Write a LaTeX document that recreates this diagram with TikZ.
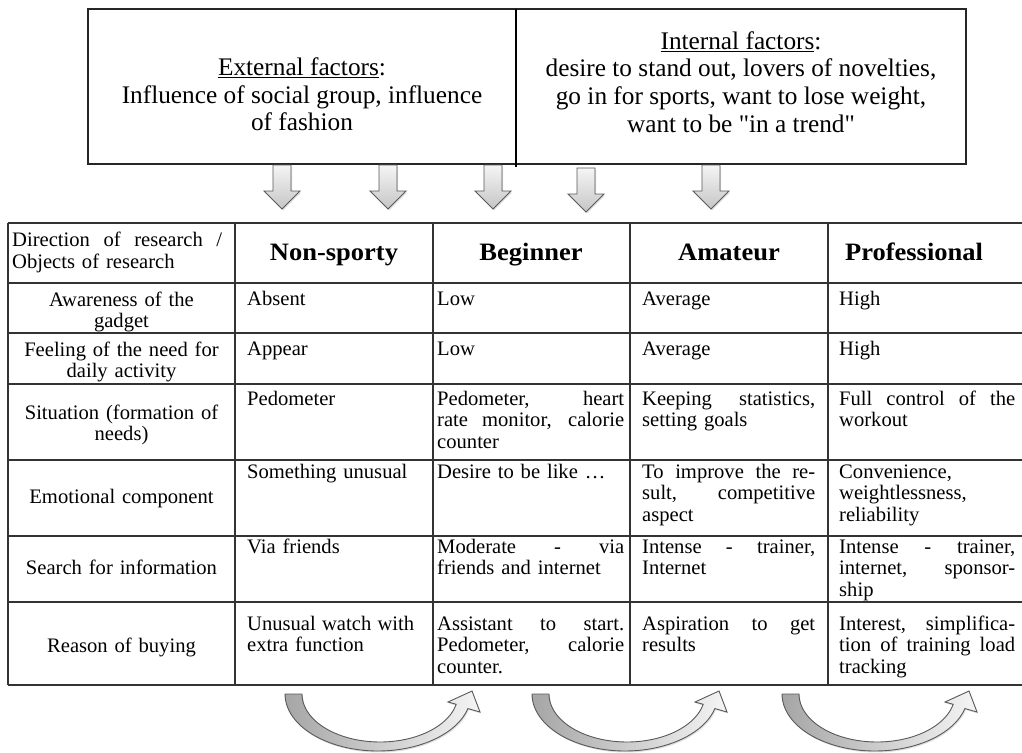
\documentclass[tikz,border=0pt]{standalone}
\usepackage{fontspec}
\setmainfont{Liberation Serif}
\newfontfamily\hdfont[FakeStretch=1.06]{Liberation Serif}
\usetikzlibrary{shadows}
\newcommand\J[1]{\leavevmode\hbox to \hsize{\spaceskip=.22em plus 1fil\relax #1}}
\newcommand\mycurvarrow[1]{%
  \begin{scope}[shift={(#1,0)}]
    \path[curvstyle] (285,694)
      -- plot[domain=180:345.2,samples=50] ({378+93*cos(\x)},{694-57*sin(\x)})
      -- (480,712) -- (472,691) -- (448,702)
      -- plot[domain=347.6:180,samples=50] ({380+78*cos(\x)},{694-48*sin(\x)})
      -- cycle;
  \end{scope}}
\begin{document}
\begin{tikzpicture}[x=1pt,y=-1pt,
  gridline/.style={line width=1.2pt, draw=black!80},
  boxline/.style={line width=1.3pt, draw=black!85},
  toptext/.style={align=center, inner sep=0, font=\fontsize{25.3}{27.7}\selectfont},
  hd/.style={anchor=base, inner sep=0, font=\hdfont\fontsize{25}{26}\selectfont\bfseries},
  lcell/.style={anchor=base, text width=222pt, align=center, inner sep=0, font=\fontsize{20.6}{21.7}\selectfont},
  cell/.style={anchor=base west, inner sep=0, align=left, font=\fontsize{20.6}{21.7}\selectfont},
  ctwo/.style={cell, text width=167pt},
  cthree/.style={cell, text width=187pt},
  cfour/.style={cell, text width=173pt},
  cfive/.style={cell, text width=176pt},
  downstyle/.style={top color=gray!8, bottom color=gray!45, draw=black!65, line width=0.9pt,
    drop shadow={opacity=0.25, shadow xshift=1pt, shadow yshift=-1.5pt}},
  curvstyle/.style={left color=gray!70, right color=gray!8, draw=black!65, line width=0.9pt,
    drop shadow={opacity=0.25, shadow xshift=1pt, shadow yshift=-1.5pt}},
  downarr/.pic={\path[downstyle] (-9,0) -- (9,0) -- (9,26) -- (18,26) -- (0,44) -- (-18,26) -- (-9,26) -- cycle;}
]
\useasboundingbox (0,0) rectangle (1022,752);

% top boxes
\draw[boxline] (88,9) rectangle (966,164);
\draw[line width=2.6pt, draw=black] (516,9) -- (516,167);
\node[toptext] (ext) at (302,94.5) {\underline{External factors}:\\Influence of social group, influence\\of fashion};
\node[toptext] (int) at (741,82) {\underline{Internal factors}:\\desire to stand out, lovers of novelties,\\go in for sports, want to lose weight,\\want to be \textquotedbl in a trend\textquotedbl};

% down arrows
\pic at (282,165) {downarr};
\pic at (388,165) {downarr};
\pic at (493,165) {downarr};
\pic at (586,168) {downarr};
\pic at (711,165) {downarr};

% table grid
\foreach \yy in {223,283,333,384,460,536,602,685}
  \draw[gridline] (8,\yy) -- (1022,\yy);
\foreach \xx in {8,235,433,630,828}
  \draw[gridline] (\xx,223) -- (\xx,685);

% header
\node[anchor=base west, inner sep=0, text width=210pt, align=left, font=\fontsize{20.6}{22}\selectfont] (h1) at (12,246) {\J{Direction of research /}\\Objects of research};
\node[hd] (h2) at (334,260) {Non-sporty};
\node[hd] (h3) at (531,260) {Beginner};
\node[hd] (h4) at (729,260) {Amateur};
\node[hd] (h5) at (914,260) {Professional};

% row 1
\node[lcell] (a1) at (121.5,306) {Awareness of the\\gadget};
\node[ctwo] (a2) at (247,305) {Absent};
\node[cthree] (a3) at (437,305) {Low};
\node[cfour] (a4) at (642,305) {Average};
\node[cfive] (a5) at (839,305) {High};

% row 2
\node[lcell] (b1) at (121.5,356) {Feeling of the need for\\daily activity};
\node[ctwo] (b2) at (247,355) {Appear};
\node[cthree] (b3) at (437,355) {Low};
\node[cfour] (b4) at (642,355) {Average};
\node[cfive] (b5) at (839,355) {High};

% row 3
\node[lcell] (c1) at (121.5,419) {Situation (formation of\\needs)};
\node[ctwo] (c2) at (247,405) {Pedometer};
\node[cthree] (c3) at (437,405) {\J{Pedometer, heart}\\\J{rate monitor, calorie}\\counter};
\node[cfour] (c4) at (642,405) {\J{Keeping statistics,}\\setting goals};
\node[cfive] (c5) at (839,405) {\J{Full control of the}\\workout};

% row 4
\node[lcell] (d1) at (121.5,503) {Emotional component};
\node[ctwo] (d2) at (247,478) {Something unusual};
\node[cthree] (d3) at (437,478) {Desire to be like …};
\node[cfour] (d4) at (642,478) {\J{To improve the re-}\\\J{sult, competitive}\\aspect};
\node[cfive] (d5) at (839,478) {Convenience,\\weightlessness,\\reliability};

% row 5
\node[lcell] (e1) at (121.5,574) {Search for information};
\node[ctwo] (e2) at (247,553) {Via friends};
\node[cthree] (e3) at (437,553) {\J{Moderate - via}\\friends and internet};
\node[cfour] (e4) at (642,553) {\J{Intense - trainer,}\\Internet};
\node[cfive] (e5) at (839,553) {\J{Intense - trainer,}\\\J{internet, sponsor-}\\ship};

% row 6
\node[lcell] (f1) at (121.5,652) {Reason of buying};
\node[ctwo] (f2) at (247,630) {\J{Unusual watch with}\\extra function};
\node[cthree] (f3) at (437,630) {\J{Assistant to start.}\\\J{Pedometer, calorie}\\counter.};
\node[cfour] (f4) at (642,630) {\J{Aspiration to get}\\results};
\node[cfive] (f5) at (839,630) {\J{Interest, simplifica-}\\\J{tion of training load}\\tracking};

% curved arrows
\mycurvarrow{0}
\mycurvarrow{247}
\mycurvarrow{497}
\end{tikzpicture}
\end{document}
